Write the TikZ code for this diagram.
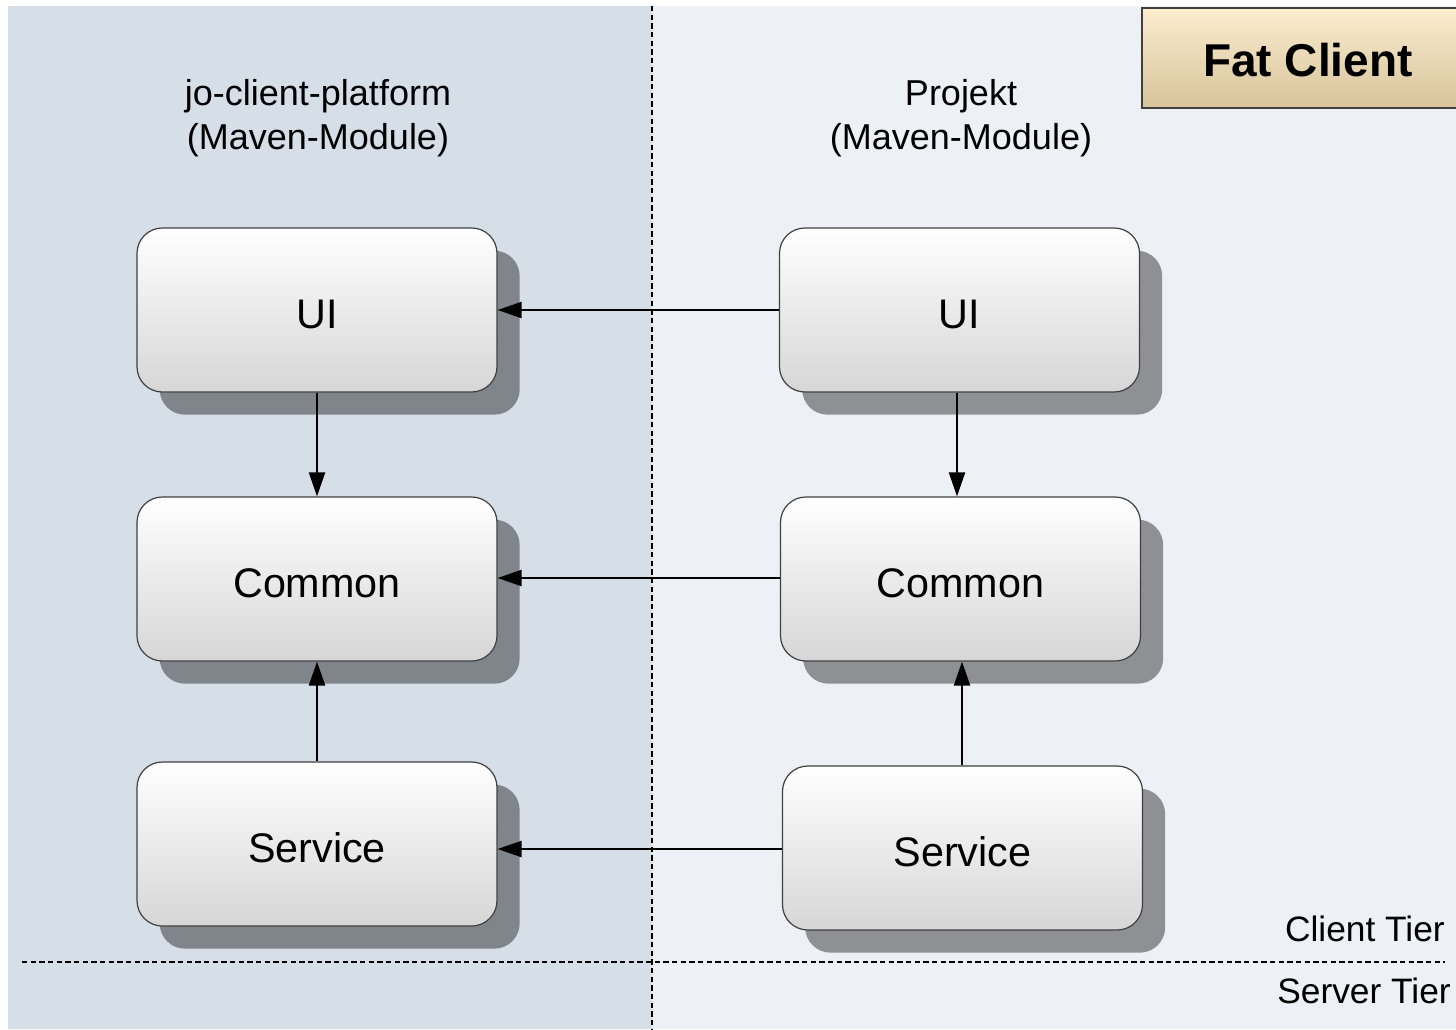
\documentclass[tikz,border=0pt]{standalone}
\usepackage{fontspec}
\setmainfont{Liberation Sans}
\usetikzlibrary{shadows,arrows.meta}
\definecolor{leftbg}{HTML}{D6DEE8}
\definecolor{rightbg}{HTML}{EDF1F6}
\definecolor{boxtop}{HTML}{FFFFFF}
\definecolor{boxbot}{HTML}{D6D6D6}
\definecolor{fattop}{HTML}{FCEDCF}
\definecolor{fatbot}{HTML}{D7C39B}
\newcommand{\lbl}[1]{\raisebox{-3pt}[\height][\depth]{#1}}
\tikzset{
  module/.style={rounded corners=19pt, draw=black!75, line width=0.9pt,
    minimum width=270pt, minimum height=123pt,
    top color=boxtop, bottom color=boxbot,
    font=\fontsize{31}{36}\selectfont,
    drop shadow={shadow xshift=17pt, shadow yshift=-17pt, opacity=0.4, fill=black}},
  dep/.style={line width=1.7pt, -{Triangle[length=18pt,width=12pt]}},
  title/.style={align=center, font=\fontsize{27}{33}\selectfont},
  tier/.style={anchor=east, inner sep=0pt, font=\fontsize{26.5}{30}\selectfont},
  divider/.style={dashed, line width=0.8pt, dash pattern=on 4pt off 2.5pt}
}
\begin{document}
\begin{tikzpicture}[x=0.75pt,y=-0.75pt]
\useasboundingbox (0,0) rectangle (1456,1029);
\fill[white] (0,0) rectangle (1456,1029);
\fill[leftbg] (8,6) rectangle (652,1029);
\fill[rightbg] (652,6) rectangle (1456,1029);

\node[title] (tl) at (318,118) {jo-client-platform\\(Maven-Module)};
\node[title] (tr) at (961,118) {Projekt\\(Maven-Module)};

\node[module] (lui) at (317,310) {\lbl{UI}};
\node[module] (lcom) at (317,579) {\lbl{Common}};
\node[module] (lsrv) at (317,844) {\lbl{Service}};
\node[module] (rui) at (959.5,310) {\lbl{UI}};
\node[module] (rcom) at (960.5,579) {\lbl{Common}};
\node[module] (rsrv) at (962.5,848) {\lbl{Service}};

\draw[dep] (rui.west |- 0,310) -- (lui.east |- 0,310);
\draw[dep] (rcom.west |- 0,578) -- (lcom.east |- 0,578);
\draw[dep] (rsrv.west |- 0,849) -- (lsrv.east |- 0,849);
\draw[dep] (lui.south) -- (lcom.north);
\draw[dep] (lsrv.north) -- (lcom.south);
\draw[dep] (rui.south -| 957,0) -- (rcom.north -| 957,0);
\draw[dep] (rsrv.north -| 962,0) -- (rcom.south -| 962,0);

\coordinate (vt) at (652,6);
\coordinate (vb) at (652,1029);
\coordinate (hl) at (22,962);
\coordinate (hr) at (1445,962);
\draw[divider] (vt) -- (vb);
\draw[divider] (hl) -- (hr);

\node[tier] (ct) at (1445,929) {Client Tier};
\node[tier] (st) at (1451,991) {Server Tier};

\draw[draw=black!75, line width=1pt, top color=fattop, bottom color=fatbot] (1142,8) rectangle (1470,108);
\node[font=\bfseries\fontsize{34.5}{40}\selectfont] (fat) at (1308,60) {Fat Client};
\end{tikzpicture}
\end{document}
